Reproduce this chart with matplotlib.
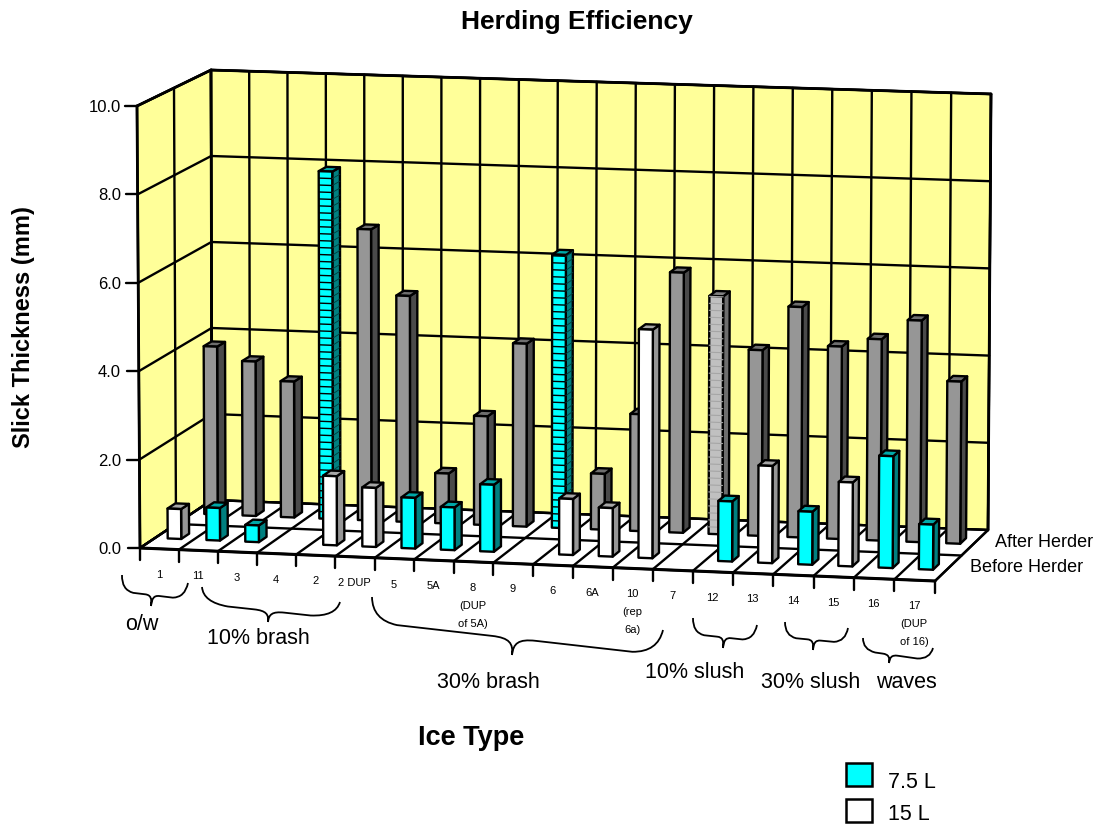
import numpy as np
import matplotlib
matplotlib.use("Agg")
import matplotlib.pyplot as plt
from matplotlib.patches import Polygon, Rectangle, PathPatch
from matplotlib.path import Path

plt.rcParams['font.family'] = ['Liberation Sans', 'DejaVu Sans']

# ---------- data ----------
categories = ["1", "11", "3", "4", "2", "2 DUP", "5", "5A", "8\n(DUP\nof 5A)", "9", "6", "6A",
              "10\n(rep\n6a)", "7", "12", "13", "14", "15", "16", "17\n(DUP\nof 16)"]
before_herder = [0.68, 0.74, 0.38, np.nan, 1.57, 1.34, 1.15, 0.97, 1.52, np.nan, 1.27, 1.10,
                 5.18, np.nan, 1.36, 2.20, 1.20, 1.90, 2.53, 1.02]
before_volume = ["15", "7.5", "7.5", None, "15", "15", "7.5", "7.5", "7.5", None, "15", "15",
                 "15", None, "7.5", "15", "7.5", "15", "7.5", "7.5"]
after_herder = [3.87, 3.56, 3.13, 8.00, 6.70, 5.20, 1.15, 2.50, 4.20, 6.27, 1.28, 2.68,
                5.96, 5.45, 4.25, 5.27, 4.40, 4.60, 5.06, 3.70]
after_style = ["g", "g", "g", "hc", "g", "g", "g", "g", "g", "hc", "g", "g",
               "g", "hg", "g", "g", "g", "g", "g", "g"]
y_ticks = [0, 2, 4, 6, 8, 10]
y_tick_labels = ["0.0", "2.0", "4.0", "6.0", "8.0", "10.0"]
depth_labels = ["Before Herder", "After Herder"]
groups = ["o/w", "10% brash", "30% brash", "10% slush", "30% slush", "waves"]
legend_labels = ["7.5 L", "15 L"]

# ---------- projection: (category position, depth, value) -> pixels ----------
floor_c = np.array([[[140, 548], [212, 500]], [[935, 581], [988, 530]]], float)
top_c = np.array([[[137, 106], [211, 70]], [[938, 137], [991, 94]]], float)
N = len(categories)
YMAX = 10.0
WARP = 0.022


def proj(c, d, val):
    """c in 0..N, d in 0..1 (front to back), val in data units."""
    u = c / N
    u = u - WARP * u * (1 - u)
    t = val / YMAX
    def bil(a):
        return ((1-u)*(1-d)*a[0, 0] + (1-u)*d*a[0, 1] + u*(1-d)*a[1, 0] + u*d*a[1, 1])
    return (1-t)*bil(floor_c) + t*bil(top_c)


fig = plt.figure(figsize=(11.11, 8.32), dpi=100)
ax = fig.add_axes([0, 0, 1, 1])
ax.set_xlim(0, 1111)
ax.set_ylim(832, 0)
ax.axis('off')

YEL = '#FFFF99'
LW = 1.7


def poly(pts, fc, lw=LW, z=1, ec='black'):
    ax.add_patch(Polygon(pts, closed=True, fc=fc, ec=ec, lw=lw, zorder=z, joinstyle='round'))


def line(p, q, lw=LW, z=2, color='black'):
    ax.plot([p[0], q[0]], [p[1], q[1]], color=color, lw=lw, zorder=z, solid_capstyle='round')


# walls and floor
poly([proj(0, 0, 0), proj(0, 1, 0), proj(0, 1, YMAX), proj(0, 0, YMAX)], YEL)
poly([proj(0, 1, 0), proj(N, 1, 0), proj(N, 1, YMAX), proj(0, 1, YMAX)], YEL)
poly([proj(0, 0, 0), proj(N, 0, 0), proj(N, 1, 0), proj(0, 1, 0)], 'white')

for v in y_ticks:
    line(proj(0, 0, v), proj(0, 1, v))
    line(proj(0, 1, v), proj(N, 1, v))
    line(proj(0, 0, v) + np.array([-12, 0]), proj(0, 0, v))
for i in range(N + 1):
    line(proj(i, 1, 0), proj(i, 1, YMAX))
    line(proj(i, 0, 0), proj(i, 1, 0))
    line(proj(i, 0, 0), proj(i, 0, 0) + np.array([0, 12]))
line(proj(0, .5, 0), proj(0, .5, YMAX))
line(proj(0, .5, 0), proj(N, .5, 0))
line(proj(0, 0, 0), proj(N, 0, 0), lw=2.2)
line(proj(0, 0, 0), proj(0, 0, YMAX), lw=2.0)
line(proj(0, 1, 0), proj(0, 1, YMAX), lw=2.0)
line(proj(0, 1, YMAX), proj(N, 1, YMAX), lw=2.0)
line(proj(0, 0, YMAX), proj(0, 1, YMAX), lw=2.0)
line(proj(N, 1, 0), proj(N, 1, YMAX), lw=2.0)

PALETTE = {
    'g': ('#969696', '#4a4a4a', '#6e6e6e'),
    'w': ('#FFFFFF', '#969696', '#a6a6a6'),
    'c': ('#00FFFF', '#008080', '#00a8a8'),
    'hc': ('#00FFFF', '#008080', '#00a8a8'),
    'hg': ('#c0c0c0', '#6e6e6e', '#808080'),
}
HW = 0.175
DEPTH = 0.11
HATCH_STEP = 0.16


def bar3d(i, d0, val, style, z):
    fc, sc, tc = PALETTE[style]
    c0, c1 = i + .5 - HW, i + .5 + HW
    d1 = d0 + DEPTH
    poly([proj(c1, d0, 0), proj(c1, d1, 0), proj(c1, d1, val), proj(c1, d0, val)], sc, z=z)
    poly([proj(c0, d0, val), proj(c1, d0, val), proj(c1, d1, val), proj(c0, d1, val)], tc, z=z)
    poly([proj(c0, d0, 0), proj(c1, d0, 0), proj(c1, d0, val), proj(c0, d0, val)], fc, z=z)
    if style == 'hc':
        for h in np.arange(HATCH_STEP, val, HATCH_STEP):
            line(proj(c0, d0, h), proj(c1, d0, h), lw=1.0, z=z + .1, color='black')
            line(proj(c1, d0, h), proj(c1, d1, h), lw=0.6, z=z + .1, color='#003c3c')
    elif style == 'hg':
        for h in np.arange(HATCH_STEP, val, HATCH_STEP):
            line(proj(c0, d0, h), proj(c1, d0, h), lw=0.8, z=z + .1, color='#a6a6a6')


for i, (val, st) in enumerate(zip(after_herder, after_style)):
    bar3d(i, 0.72, val, st, 5)
for i, (val, vol) in enumerate(zip(before_herder, before_volume)):
    if vol is not None:
        bar3d(i, 0.21, val, 'c' if vol == "7.5" else 'w', 6)

# tick labels
for v, lab in zip(y_ticks, y_tick_labels):
    p = proj(0, 0, v)
    ax.text(121, p[1] + 1.5, lab, ha='right', va='center', fontsize=12, zorder=8)

LINE_GAP = 18.5
for i, lab in enumerate(categories):
    p = proj(i + .5, 0, 0)
    for j, part in enumerate(lab.split("\n")):
        ax.text(p[0] - 0.5, p[1] + 26 + j * LINE_GAP - j * 0.5, part, ha='center', va='center',
                fontsize=8, zorder=8)

# depth labels
ax.text(970, 567.5, depth_labels[0], ha='left', va='center', fontsize=13)
ax.text(995, 542.5, depth_labels[1], ha='left', va='center', fontsize=13)

# titles
ax.text(577, 22, "Herding Efficiency", ha='center', va='center', fontsize=19, fontweight='bold')
ax.text(24, 327, "Slick Thickness (mm)", ha='center', va='center', rotation=90, fontsize=17,
        fontweight='bold')
ax.text(471, 738, "Ice Type", ha='center', va='center', fontsize=19.5, fontweight='bold')


# group braces
def brace(P0, P1, tip):
    P0, P1, tip = np.array(P0, float), np.array(P1, float), np.array(tip, float)
    d = P1 - P0
    L = np.hypot(*d)
    d = d / L
    n = np.array([-d[1], d[0]])
    if np.dot(tip - P0, n) < 0:
        n = -n
    dep = np.dot(tip - P0, n)
    h = dep * 0.6
    s = np.dot(tip - P0, d)
    r = min(0.2 * L, 28)
    r2 = min(0.11 * L, 22)
    pt = lambda a, b: P0 + a * d + b * n
    verts = [P0, pt(0.1 * r, h * 0.9), pt(r, h), pt(s - r2, h),
             pt(s - 0.2 * r2, h), pt(s, h * 1.2), tip,
             pt(s, h * 1.2), pt(s + 0.2 * r2, h), pt(s + r2, h),
             pt(L - r, h), pt(L - 0.1 * r, h * 0.9), P1]
    codes = [Path.MOVETO, Path.CURVE3, Path.CURVE3, Path.LINETO,
             Path.CURVE4, Path.CURVE4, Path.CURVE4,
             Path.CURVE4, Path.CURVE4, Path.CURVE4,
             Path.LINETO, Path.CURVE3, Path.CURVE3]
    ax.add_patch(PathPatch(Path(verts, codes), fc='none', ec='black', lw=1.3, zorder=7))


brace((122, 575), (188, 583), (151, 606))
brace((202, 587), (340, 602), (268, 622))
brace((372, 597), (663, 630), (512, 655))
brace((693, 618), (757, 625), (723, 648))
brace((785, 622), (848, 628), (813, 650))
brace((863, 638), (933, 648), (889, 663))

group_pos = [(142, 625), (258, 639), (488, 682), (695, 672), (811, 682), (906, 682)]
for lab, (x, y) in zip(groups, group_pos):
    ax.text(x, y, lab, ha='center', va='center', fontsize=15.5)

# legend
ax.add_patch(Rectangle((846, 763), 26, 23, fc='#00FFFF', ec='black', lw=1.8))
ax.add_patch(Rectangle((846, 799), 26, 23, fc='white', ec='black', lw=1.8))
ax.text(888, 782, legend_labels[0], ha='left', va='center', fontsize=15.5)
ax.text(888, 815, legend_labels[1], ha='left', va='center', fontsize=15.5)

fig.savefig("out.png", dpi=100)
